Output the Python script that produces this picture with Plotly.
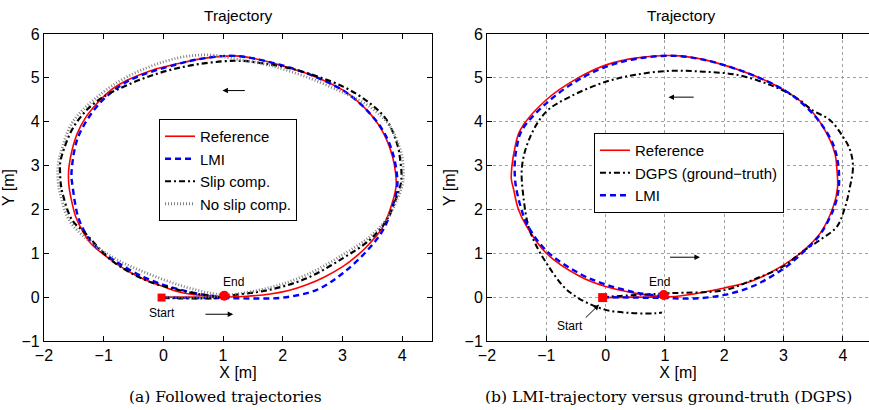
import plotly.graph_objects as go

# ---------------- data: panel (a) ----------------
ref_a_x = [0.0, 0.5, 1.0, 1.4, 1.79, 2.10, 2.40, 2.70, 3.01, 3.25, 3.46, 3.68, 3.85, 3.90, 3.89, 3.84, 3.74, 3.62, 3.46, 3.25, 3.01, 2.50, 1.95, 1.60, 1.20, 0.70, 0.23, -0.20, -0.60, -0.90, -1.11, -1.30, -1.44, -1.53, -1.58, -1.59, -1.58, -1.53, -1.47, -1.35, -1.22, -0.88, -0.60, -0.32, 0.0, 0.23, 0.50, 0.79, 1.0]
ref_a_y = [0.0, 0.0, 0.0, 0.02, 0.07, 0.15, 0.28, 0.46, 0.70, 0.95, 1.23, 1.61, 2.22, 2.55, 2.83, 3.20, 3.59, 3.90, 4.19, 4.47, 4.72, 5.05, 5.29, 5.42, 5.50, 5.45, 5.32, 5.17, 4.95, 4.70, 4.42, 4.10, 3.74, 3.35, 2.98, 2.75, 2.52, 2.15, 1.84, 1.50, 1.23, 0.85, 0.60, 0.40, 0.24, 0.13, 0.06, 0.03, 0.0]

lmi_a_x = [0.0, 0.5, 1.0, 1.5, 2.0, 2.56, 3.01, 3.46, 3.70, 3.87, 3.92, 3.91, 3.86, 3.76, 3.62, 3.45, 3.25, 3.00, 2.50, 1.95, 1.20, 0.70, 0.23, -0.60, -1.08, -1.40, -1.49, -1.53, -1.54, -1.52, -1.48, -1.43, -1.33, -1.20, -0.86, -0.32, 0.20, 0.70, 1.0]
lmi_a_y = [-0.01, -0.02, -0.02, -0.03, -0.01, 0.16, 0.55, 1.13, 1.58, 2.20, 2.55, 2.83, 3.20, 3.59, 3.92, 4.20, 4.47, 4.72, 5.05, 5.30, 5.50, 5.45, 5.31, 4.92, 4.40, 3.74, 3.35, 2.98, 2.75, 2.52, 2.15, 1.84, 1.52, 1.25, 0.87, 0.45, 0.20, 0.05, 0.0]

slip_a_x = [0.0, 0.5, 0.9, 1.2, 1.79, 2.40, 3.01, 3.46, 3.74, 3.93, 3.98, 3.99, 3.97, 3.93, 3.74, 3.46, 3.01, 2.23, 1.67, 1.20, 0.23, -0.60, -1.16, -1.50, -1.69, -1.73, -1.73, -1.72, -1.69, -1.53, -1.31, -0.88, -0.32, 0.23, 0.68, 0.95]
slip_a_y = [-0.02, -0.03, -0.02, 0.05, 0.17, 0.43, 0.89, 1.31, 1.76, 2.37, 2.60, 2.83, 3.10, 3.43, 4.04, 4.42, 4.80, 5.18, 5.33, 5.39, 5.22, 4.84, 4.42, 3.89, 3.28, 3.05, 2.83, 2.60, 2.37, 1.76, 1.46, 0.85, 0.40, 0.17, 0.05, 0.0]

noslip_a_x = [0.0, 0.5, 1.0, 1.79, 2.40, 3.01, 3.46, 3.77, 3.96, 4.01, 4.02, 4.01, 3.97, 3.80, 3.46, 2.79, 2.23, 1.67, 1.12, 0.80, 0.23, -0.60, -1.13, -1.53, -1.72, -1.76, -1.77, -1.76, -1.73, -1.58, -1.27, -0.77, -0.21, 0.35, 0.79, 1.0]
noslip_a_y = [0.0, 0.0, 0.03, 0.22, 0.51, 0.97, 1.38, 1.84, 2.37, 2.60, 2.83, 3.10, 3.36, 3.89, 4.34, 4.80, 5.10, 5.32, 5.45, 5.52, 5.45, 5.03, 4.54, 3.97, 3.28, 3.05, 2.83, 2.60, 2.37, 1.76, 1.31, 0.85, 0.51, 0.24, 0.09, 0.05]

start_a = (-0.03, -0.01)
end_a = (1.02, 0.03)

# ---------------- data: panel (b) ----------------
ref_b_x = [-0.05, 0.5, 1.0, 1.37, 2.0, 2.49, 3.01, 3.28, 3.62, 3.84, 3.91, 3.90, 3.87, 3.78, 3.50, 3.01, 2.0, 1.25, 0.5, 0.0, -0.5, -1.0, -1.44, -1.53, -1.58, -1.59, -1.55, -1.47, -1.33, -1.0, -0.43, 0.0, 0.53, 1.0]
ref_b_y = [-0.01, 0.0, 0.0, 0.05, 0.21, 0.38, 0.74, 1.0, 1.46, 2.07, 2.50, 2.90, 3.25, 3.59, 4.20, 4.72, 5.29, 5.50, 5.45, 5.29, 4.97, 4.50, 3.81, 3.40, 2.98, 2.70, 2.45, 2.00, 1.61, 1.0, 0.47, 0.24, 0.08, 0.0]

lmi_b_x = [-0.05, 0.5, 1.0, 1.5, 2.0, 2.5, 3.01, 3.28, 3.62, 3.86, 3.93, 3.93, 3.89, 3.80, 3.50, 3.01, 2.0, 1.2, 0.5, 0.0, -0.5, -1.0, -1.41, -1.50, -1.53, -1.53, -1.51, -1.43, -1.32, -1.0, -0.43, 0.0, 0.53, 1.0]
lmi_b_y = [0.0, -0.01, -0.02, -0.03, 0.05, 0.26, 0.66, 0.96, 1.44, 2.07, 2.50, 2.90, 3.25, 3.59, 4.17, 4.72, 5.29, 5.50, 5.43, 5.25, 4.92, 4.42, 3.81, 3.40, 3.10, 2.75, 2.50, 2.05, 1.65, 1.06, 0.53, 0.29, 0.10, 0.02]

dgps_b_x = [-0.05, 0.5, 1.09, 2.0, 2.49, 3.01, 3.28, 3.62, 3.90, 4.04, 4.12, 4.17, 4.12, 4.00, 3.78, 3.50, 3.22, 2.77, 2.21, 1.65, 1.09, 0.5, 0.0, -0.6, -1.0, -1.27, -1.41, -1.38, -1.30, -1.19, -1.0, -0.71, -0.51, -0.31, 0.0, 0.42, 0.83, 0.95]
dgps_b_y = [0.0, 0.05, 0.09, 0.16, 0.40, 0.71, 1.0, 1.31, 1.61, 2.07, 2.52, 2.98, 3.36, 3.66, 4.04, 4.25, 4.54, 4.84, 5.07, 5.14, 5.16, 5.07, 4.91, 4.57, 4.23, 3.66, 2.98, 2.22, 1.61, 1.23, 0.78, 0.24, 0.02, -0.13, -0.29, -0.36, -0.37, -0.35]

start_b = (-0.05, -0.01)
end_b = (0.98, 0.05)

x_ticks = [-2, -1, 0, 1, 2, 3, 4]
y_ticks = [-1, 0, 1, 2, 3, 4, 5, 6]

SANS = "Liberation Sans, Arial, sans-serif"
RED = "#ff0000"
BLUE = "#0000ff"

fig = go.Figure()

def line(x, y, name, color, width, dash, xa, ya, legend):
    fig.add_trace(go.Scatter(x=x, y=y, mode="lines", name=name,
                             line=dict(color=color, width=width, dash=dash, shape="spline", smoothing=1.0),
                             xaxis=xa, yaxis=ya, legend=legend))

# panel (a)
line(ref_a_x, ref_a_y, "Reference", RED, 1.6, "solid", "x", "y", "legend")
line(lmi_a_x, lmi_a_y, "LMI", BLUE, 2.4, "6px,4px", "x", "y", "legend")
line(slip_a_x, slip_a_y, "Slip comp.", "black", 2.2, "6px,3px,2px,3px", "x", "y", "legend")
line(noslip_a_x, noslip_a_y, "No slip comp.", "#808080", 2.8, "1px,2px", "x", "y", "legend")
fig.add_trace(go.Scatter(x=[start_a[0]], y=[start_a[1]], mode="markers", showlegend=False,
                         marker=dict(symbol="square", size=8, color=RED), xaxis="x", yaxis="y"))
fig.add_trace(go.Scatter(x=[end_a[0]], y=[end_a[1]], mode="markers", showlegend=False,
                         marker=dict(symbol="circle", size=10, color=RED), xaxis="x", yaxis="y"))

# panel (b)
line(ref_b_x, ref_b_y, "Reference", RED, 1.6, "solid", "x2", "y2", "legend2")
line(dgps_b_x, dgps_b_y, "DGPS (ground\u2212truth)", "black", 2.0, "6px,3px,2px,3px", "x2", "y2", "legend2")
line(lmi_b_x, lmi_b_y, "LMI", BLUE, 2.4, "6px,4px", "x2", "y2", "legend2")
fig.add_trace(go.Scatter(x=[start_b[0]], y=[start_b[1]], mode="markers", showlegend=False,
                         marker=dict(symbol="square", size=9, color=RED), xaxis="x2", yaxis="y2"))
fig.add_trace(go.Scatter(x=[end_b[0]], y=[end_b[1]], mode="markers", showlegend=False,
                         marker=dict(symbol="circle", size=10, color=RED), xaxis="x2", yaxis="y2"))

axis_common = dict(showline=True, linecolor="black", linewidth=1, ticks="inside", ticklen=5,
                   tickcolor="black", zeroline=False, automargin=False,
                   tickfont=dict(family=SANS, size=16, color="black"),
                   title_font=dict(family=SANS, size=16, color="black"))

fig.update_layout(
    width=869, height=410, margin=dict(l=0, r=0, t=0, b=0),
    paper_bgcolor="white", plot_bgcolor="white",
    xaxis=dict(domain=[0.0506, 0.4971], range=[-2, 4.5], tickvals=x_ticks, mirror="allticks",
               showgrid=False, title=dict(text="X [m]", standoff=2), anchor="y", **axis_common),
    yaxis=dict(domain=[0.1683, 0.9171], range=[-1, 6], tickvals=y_ticks, mirror="allticks",
               showgrid=False, title=dict(text="Y [m]", standoff=4), anchor="x", **axis_common),
    xaxis2=dict(domain=[0.5604, 1.0], range=[-2, 4.44], tickvals=x_ticks, mirror="allticks",
                showgrid=True, gridcolor="#a0a0a0", griddash="dot", gridwidth=1,
                title=dict(text="X [m]", standoff=2), anchor="y2", **axis_common),
    yaxis2=dict(domain=[0.1683, 0.9171], range=[-1, 6], tickvals=y_ticks, mirror=False,
                showgrid=True, gridcolor="#a0a0a0", griddash="dot", gridwidth=1,
                title=dict(text="Y [m]", standoff=4), anchor="x2", **axis_common),
    legend=dict(x=0.183, y=0.7098, xanchor="left", yanchor="top", bgcolor="white",
                bordercolor="black", borderwidth=1, font=dict(family=SANS, size=15, color="black"),
                tracegroupgap=0),
    legend2=dict(x=0.6835, y=0.6756, xanchor="left", yanchor="top", bgcolor="white",
                 bordercolor="black", borderwidth=1, font=dict(family=SANS, size=15, color="black"),
                 tracegroupgap=0),
    showlegend=True,
)

ann = []
def txt(x, y, text, size, xref="paper", yref="paper", family=SANS):
    ann.append(dict(x=x, y=y, xref=xref, yref=yref, text=text, showarrow=False,
                    xanchor="center", yanchor="middle",
                    font=dict(family=family, size=size, color="black")))

def arrow(x0, y0, x1, y1, xr, yr):
    ann.append(dict(x=x1, y=y1, ax=x0, ay=y0, xref=xr, yref=yr, axref=xr, ayref=yr, text="",
                    showarrow=True, arrowhead=2, arrowsize=1.1, arrowwidth=1, arrowcolor="black"))

txt(0.274, 0.963, "Trajectory", 15.5)
txt(0.784, 0.963, "Trajectory", 15.5)
txt(0.26, 0.032, "(a) Followed trajectories", 15.5, family="DejaVu Serif, serif")
txt(0.769, 0.032, "(b) LMI-trajectory versus ground-truth (DGPS)", 15.5, family="DejaVu Serif, serif")

txt(1.18, 0.35, "End", 12, "x", "y")
txt(-0.02, -0.36, "Start", 12, "x", "y")
arrow(1.39, 4.71, 0.99, 4.71, "x", "y")
arrow(0.68, -0.39, 1.17, -0.39, "x", "y")

txt(0.90, 0.34, "End", 12, "x2", "y2")
txt(-0.6, -0.65, "Start", 12, "x2", "y2")
arrow(-0.36, -0.5, -0.11, -0.17, "x2", "y2")
arrow(1.51, 4.56, 1.06, 4.56, "x2", "y2")
arrow(1.06, 0.91, 1.59, 0.91, "x2", "y2")

fig.update_layout(annotations=ann)
fig.write_html("out.html")
